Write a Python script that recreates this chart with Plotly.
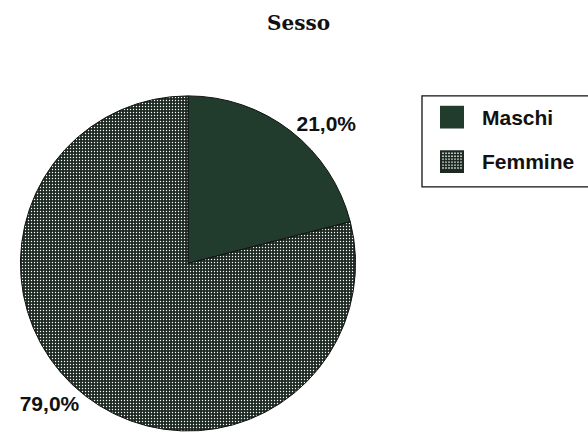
import plotly.graph_objects as go

# Survey respondents by sex (percent)
categories = ["Maschi", "Femmine"]
shares = [21.0, 79.0]
title_text = "Sesso"

W, H = 588, 436
MASCHI_COLOR = "#213c2c"
GRID_DARK = "#1c2a22"
INK = "#111111"


def px_x(x):
    return x / W


def px_y(y):
    return 1 - y / H


fig = go.Figure()

fig.add_trace(go.Pie(
    labels=categories,
    values=shares,
    sort=False,
    direction="clockwise",
    rotation=0,
    domain=dict(x=[px_x(19), px_x(357)], y=[px_y(436), px_y(97)]),
    marker=dict(
        colors=[MASCHI_COLOR, GRID_DARK],
        line=dict(color=INK, width=1),
        pattern=dict(
            shape=["", "."],
            fgcolor="white",
            bgcolor=[MASCHI_COLOR, GRID_DARK],
            size=3,
            solidity=0.16,
        ),
    ),
    texttemplate="%{value:.1f}%",
    textposition="outside",
    textfont=dict(family="Liberation Sans", size=21, color=INK, weight="bold"),
    showlegend=False,
    hoverinfo="label+percent",
))

shapes = []
# legend frame (runs off the right edge)
shapes.append(dict(type="rect", xref="paper", yref="paper",
                   x0=px_x(422), x1=px_x(600), y0=px_y(189), y1=px_y(97),
                   line=dict(color=INK, width=1.3), fillcolor="rgba(0,0,0,0)"))

# legend swatches
sw_x0, sw_x1 = 440, 464
row_tops = [107, 152]
sw_h = 23
shapes.append(dict(type="rect", xref="paper", yref="paper",
                   x0=px_x(sw_x0), x1=px_x(sw_x1),
                   y0=px_y(row_tops[0] + sw_h), y1=px_y(row_tops[0]),
                   line=dict(width=0), fillcolor=MASCHI_COLOR))
t = row_tops[1]
shapes.append(dict(type="rect", xref="paper", yref="paper",
                   x0=px_x(sw_x0), x1=px_x(sw_x1), y0=px_y(t + sw_h), y1=px_y(t),
                   line=dict(width=0), fillcolor=GRID_DARK))
# dotted texture inside the second swatch
step = 3
for i in range(1, (sw_x1 - sw_x0) // step):
    for j in range(1, sw_h // step):
        cx = sw_x0 + i * step
        cy = t + j * step
        shapes.append(dict(type="rect", xref="paper", yref="paper",
                           x0=px_x(cx - 0.7), x1=px_x(cx + 0.7),
                           y0=px_y(cy + 0.7), y1=px_y(cy - 0.7),
                           line=dict(width=0), fillcolor="white"))

annotations = []
for name, top in zip(categories, row_tops):
    annotations.append(dict(
        text=name, xref="paper", yref="paper",
        x=px_x(480), y=px_y(top + sw_h / 2),
        xanchor="left", yanchor="middle", showarrow=False,
        font=dict(family="Liberation Sans", size=21, color=INK, weight="bold"),
    ))

annotations.append(dict(
    text=title_text, xref="paper", yref="paper",
    x=px_x(298), y=px_y(23), xanchor="center", yanchor="middle", showarrow=False,
    font=dict(family="DejaVu Serif", size=20, color=INK, weight="bold"),
))

fig.update_layout(
    width=W, height=H,
    margin=dict(l=0, r=0, t=0, b=0),
    paper_bgcolor="white",
    plot_bgcolor="white",
    separators=",.",
    shapes=shapes,
    annotations=annotations,
)

fig.write_html("out.html")
